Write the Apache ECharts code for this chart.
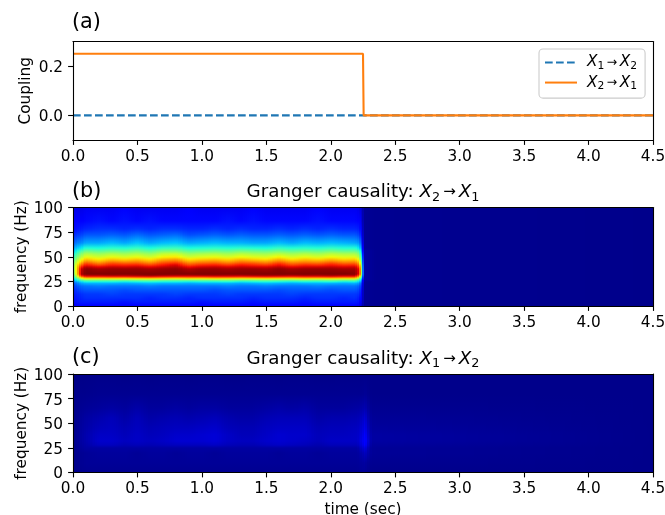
<!DOCTYPE html>
<html>
<head>
<meta charset="utf-8">
<style>html,body{margin:0;padding:0;background:#fff}#c{width:665px;height:515px}</style>
<script src="https://cdn.jsdelivr.net/npm/echarts@6/dist/echarts.min.js"></script>
</head>
<body>
<div id="c"></div>
<script>
// ---------- Coupling panel data ----------
const couplingTimes12 = [0, 4.5];
const couplingValues12 = [0, 0];
const couplingTimes21 = [0, 2.25, 2.255, 4.5];
const couplingValues21 = [0.25, 0.25, 0, 0];

// ---------- Axis ticks ----------
const timeTicks = [0, 0.5, 1, 1.5, 2, 2.5, 3, 3.5, 4, 4.5];
const couplingTicks = [0, 0.2];

// ---------- Granger causality X2 -> X1 (percent of colour scale) ----------
const freqsB = [0,4,8,12,16,20,23,24.5,26.2,27.2,28,29,30,31,32.5,37.5,40,42,44,46,48,49.5,52.5,55.5,58.5,64,72,78,86,100];
const timesB = [0,0.03,0.06,0.1,0.2,0.3,0.4,0.5,0.6,0.7,0.8,0.9,1.0,1.1,1.2,1.3,1.4,1.5,1.6,1.7,1.8,1.9,2.0,2.1,2.19,2.22,2.24,2.26,2.35,4.5];
const columnsB = [
[10,13,14,15,16,18,21,24,29,32,35,38,41,44,48,50,51,50,48,46,43,40,36,31,27,21,16,13,11,9],
[11,14,15,16,18,21,25,29,38,43,49,55,60,64,68,69,68,66,62,58,54,50,45,38,32,25,18,14,12,9],
[11,15,16,17,20,23,29,34,46,55,65,76,86,93,96,94,88,80,73,67,62,57,51,43,35,26,19,15,12,9],
[11,15,17,18,21,24,31,37,50,62,72,84,92,97,100,99,95,89,82,75,69,63,57,48,39,29,21,16,13,10],
[12,15,17,18,21,25,31,37,50,61,72,84,92,97,100,97,91,83,76,70,65,60,54,46,38,29,21,17,14,10],
[11,15,17,19,21,24,31,37,50,62,73,85,93,98,100,98,94,88,82,75,69,63,57,48,40,31,22,17,13,10],
[11,14,17,18,20,24,30,36,50,62,72,85,93,97,100,98,93,87,80,73,67,61,55,47,39,29,21,16,14,11],
[11,15,17,18,21,24,31,37,51,63,74,86,94,98,100,98,94,88,81,75,69,63,57,49,41,32,23,17,13,10],
[12,15,16,18,21,25,32,38,52,63,75,87,95,99,100,97,91,84,77,71,66,60,54,46,38,29,21,16,14,10],
[11,15,17,18,21,24,31,37,50,62,73,85,93,98,100,98,94,89,83,77,71,65,59,50,41,31,22,17,13,10],
[11,15,17,19,21,24,31,37,49,61,71,84,92,97,100,99,96,92,86,79,73,66,60,50,42,32,23,17,13,10],
[11,15,16,18,21,24,30,36,50,62,73,84,92,97,100,96,90,83,77,71,66,60,54,46,38,29,20,16,13,11],
[11,14,17,18,21,24,31,37,50,62,72,84,92,98,100,98,93,87,80,74,68,62,56,47,39,30,21,16,13,10],
[12,15,17,18,20,24,31,37,51,63,74,85,93,98,100,98,94,88,81,75,69,63,57,48,40,31,22,17,13,10],
[11,15,17,19,21,25,31,38,51,62,73,85,93,97,100,97,92,85,78,72,67,61,55,47,39,30,21,16,14,10],
[11,15,17,18,21,24,30,36,50,61,72,84,92,97,100,98,94,89,82,76,70,64,58,49,40,30,22,17,13,10],
[11,14,16,18,21,24,31,37,50,62,73,85,93,98,100,98,93,87,81,74,68,62,56,48,39,29,21,16,14,11],
[12,15,17,18,21,25,32,38,51,63,74,86,94,98,100,97,92,85,78,72,66,61,55,47,38,29,21,16,13,10],
[11,15,17,18,20,24,31,37,50,62,73,85,93,98,100,99,95,90,84,77,71,65,58,49,41,31,22,17,13,10],
[11,15,17,19,21,24,30,36,50,61,72,84,92,97,100,97,91,84,78,72,66,61,55,47,39,29,21,16,13,10],
[11,14,16,18,21,24,31,37,51,63,74,85,93,98,100,98,93,87,80,74,69,63,57,48,40,31,22,17,13,10],
[12,15,17,18,21,25,31,37,50,62,73,85,93,97,100,98,93,86,79,73,67,61,55,47,39,30,21,16,14,11],
[11,15,17,18,20,24,31,38,51,63,74,86,94,98,100,98,94,89,83,76,70,64,58,49,41,31,22,17,13,10],
[11,15,16,18,21,24,30,36,50,61,72,84,92,97,100,97,92,86,79,73,67,62,56,47,39,30,21,16,13,10],
[11,15,17,18,21,24,31,37,50,62,72,84,92,97,99,97,93,87,80,74,68,62,56,47,39,29,21,16,13,10],
[10,14,15,17,19,22,28,33,42,50,59,69,78,86,91,90,85,79,73,67,62,57,51,43,35,27,19,15,12,9],
[6,8,9,10,11,13,15,18,22,26,29,33,37,41,43,43,42,40,37,35,32,30,27,23,19,15,11,9,7,6],
[2,2,2,2,2,2,2,2,3,3,3,3,3,3,3,3,3,3,3,3,3,3,3,3,2,2,2,2,2,2],
[1.5,1.5,1.5,1.5,1.5,1.5,1.5,1.5,1.5,1.5,1.5,1.5,1.5,1.5,1.5,1.5,1.5,1.5,1.5,1.5,1.5,1.5,1.5,1.5,1.5,1.5,1.5,1.5,1.5,1.5],
[1,1,1,1,1,1,1,1,1,1,1,1,1,1,1,1,1,1,1,1,1,1,1,1,1,1,1,1,1,1]
];

// ---------- Granger causality X1 -> X2 (percent of colour scale) ----------
const freqsC = [0,10,20,25,28,32,38,45,55,65,80,100];
const timesC = [0,0.1,0.2,0.3,0.4,0.5,0.6,0.7,0.8,0.9,1.0,1.1,1.2,1.3,1.4,1.5,1.6,1.7,1.8,1.9,2.0,2.1,2.2,2.245,2.262,2.28,2.32,4.5];
const columnsC = [
[1,1,1,1,1,1,1,1,1,1,1,0.6],
[1.5,2,2,3,3.5,4,4,3.5,3,2,1.2,0.8],
[1.5,2,2.5,3,5.5,6.5,6,5,4,2.5,1.5,1],
[1.5,2,2.5,3,5.5,6.5,6,5.5,5,3,1.5,1],
[1.5,2,2.5,3,4.5,5.5,5,4.5,3.5,2.5,1.5,0.8],
[1.5,2,2,3,5,6,6,5.5,5,3.5,1.5,1],
[1.5,2,2.5,3,4.5,5.5,5,4.5,3.5,2.5,1.5,0.8],
[1.5,2,2.5,3,5,6,5.5,5,4,2.5,1.5,1],
[1.5,2,2,3,5.5,7,6.5,5.5,4.5,3,1.5,1],
[1.5,2,2.5,3,5.5,7,6.5,5.5,4,2.5,1.5,0.8],
[1.5,2,2.5,3,5.5,7,7,6,4.5,3,1.5,1],
[1.5,2,2,3,6,7.5,7.5,6.5,5,3,1.5,1],
[1.5,2,2.5,3,5,6,6,5,4,2.5,1.5,0.8],
[1.5,2,2.5,3,4.5,5.5,5,4.5,3.5,2.5,1.5,0.8],
[1.5,2,2.5,3,4.5,5.5,5,4.5,3.5,2.5,1.5,1],
[1.5,2,2.5,3,5.5,6.5,6,5.5,4.5,3,1.5,1],
[1.5,2,2,3,6,7,7,6,5,3.5,1.5,0.8],
[1.5,2,2.5,3,5.5,6.5,6.5,6,5,3,1.5,1],
[1.5,2,2.5,3,5,6,6.5,6,5,3.5,1.5,1],
[1.5,2,2,3,4,5,5,4.5,3.5,2.5,1.5,0.8],
[1.5,2,2.5,3,5,6,5.5,5,4,2.5,1.5,0.8],
[1.5,2,2.5,3,5,6,5.5,5,4,2.5,1.5,1],
[1.5,2,2.5,3,5,6,6,5.5,4.5,3,1.5,1],
[2,2.5,4,6,8,9,8,7,5.5,3.5,1.5,1],
[2,3,6,9,12,13,12,10,8,4.5,2,1],
[1.5,2,4,5,7,8,7,6,4.5,3,1.5,1],
[1,1.5,2,2,2.5,3,3,2.5,2,1.5,1,1],
[1,1,1,1,1,1,1,1,1,1,1,1]
];

// ---------- Texts ----------
const panelLabels = ['(a)', '(b)', '(c)'];
const seriesNames = ['X1 to X2', 'X2 to X1'];
const mathArrow12 = '{i|X}{s|1}{a|\u2009\u2192\u2009}{i|X}{s|2}';
const mathArrow21 = '{i|X}{s|2}{a|\u2009\u2192\u2009}{i|X}{s|1}';

// ---------- Colour map (matplotlib jet) ----------
const jetR = [[0,0],[0.35,0],[0.66,1],[0.89,1],[1,0.5]];
const jetG = [[0,0],[0.125,0],[0.375,1],[0.64,1],[0.91,0],[1,0]];
const jetB = [[0,0.5],[0.11,1],[0.34,1],[0.65,0],[1,0]];
function seg(t, s){
  for (let i=1;i<s.length;i++) if (t<=s[i][0]) {
    const a=s[i-1], b=s[i];
    return a[1]+(b[1]-a[1])*(t-a[0])/(b[0]-a[0]);
  }
  return s[s.length-1][1];
}
function jet(p){
  const t=Math.max(0,Math.min(1,p/100));
  return 'rgb('+Math.round(seg(t,jetR)*255)+','+Math.round(seg(t,jetG)*255)+','+Math.round(seg(t,jetB)*255)+')';
}

// ---------- Build cells from the tables ----------
function cells(times, freqs, cols){
  const out=[];
  for (let i=0;i<times.length-1;i++)
    for (let j=0;j<freqs.length-1;j++)
      out.push([times[i],times[i+1],freqs[j],freqs[j+1],cols[i][j],cols[i+1][j],cols[i][j+1],cols[i+1][j+1]]);
  return out;
}
function renderCell(params, api){
  const t0=api.value(0), t1=api.value(1), f0=api.value(2), f1=api.value(3);
  const v00=api.value(4), v10=api.value(5), v01=api.value(6), v11=api.value(7);
  const x0=Math.round(api.coord([t0,f0])[0]), x1=Math.round(api.coord([t1,f0])[0]);
  const yb=Math.round(api.coord([t0,f0])[1]), yt=Math.round(api.coord([t0,f1])[1]);
  if (yb===yt || x0===x1) return null;
  const flat = v00===v10 && v01===v11;
  const n = flat ? 1 : Math.max(1,Math.ceil((x1-x0)/2));
  const children=[];
  for (let k=0;k<n;k++){
    const a=x0+Math.round((x1-x0)*k/n), b=x0+Math.round((x1-x0)*(k+1)/n);
    const m=n===1?0.5:(k+0.5)/n;
    children.push({
      type:'rect',
      shape:{x:a,y:yt,width:b-a,height:yb-yt},
      style:{fill:{type:'linear',x:0,y:0,x2:0,y2:1,colorStops:[
        {offset:0,color:jet(v01+(v11-v01)*m)},
        {offset:1,color:jet(v00+(v10-v00)*m)}
      ]}},
      silent:true
    });
  }
  return {type:'group',children};
}

// ---------- Layout ----------
const font='DejaVu Sans';
const tickSize=15.3;
const L=73, W=580;
const grids=[{left:L,width:W,top:41.5,height:98.5,outerBoundsMode:'none'},
             {left:L,width:W,top:207.5,height:98.5,outerBoundsMode:'none'},
             {left:L,width:W,top:374,height:98.5,outerBoundsMode:'none'}];
const black={color:'#000',width:1.1};
const xAxis=[], yAxis=[];
grids.forEach((g,i)=>{
  xAxis.push({type:'value',gridIndex:i,min:0,max:4.5,interval:0.5,position:'bottom',z:10,
    axisLine:{show:true,onZero:false,lineStyle:black},
    axisTick:{show:true,length:4.9,lineStyle:black},
    axisLabel:{show:true,color:'#000',fontFamily:font,fontSize:tickSize,margin:9.5,hideOverlap:false,formatter:v=>v.toFixed(1)},
    splitLine:{show:false},
    name:i===2?'time (sec)':'',nameLocation:'middle',nameGap:30,nameMoveOverlap:false,nameTextStyle:{color:'#000',fontFamily:font,fontSize:tickSize}
  });
  xAxis.push({type:'value',gridIndex:i,min:0,max:4.5,interval:0.5,position:'top',z:10,
    axisLine:{show:true,onZero:false,lineStyle:black},axisTick:{show:false},axisLabel:{show:false},splitLine:{show:false}});
  const a = i===0;
  const yLab={show:true,color:'#000',fontFamily:font,fontSize:tickSize,margin:10,
    rich:{v:{fontFamily:font,fontSize:tickSize,color:'#000',padding:[4,0,0,0]}},
    formatter:v=>'{v|'+(a?v.toFixed(1):String(v))+'}'};
  yAxis.push({type:'value',gridIndex:i,min:a?-0.1:0,max:a?0.3:100,interval:a?0.1:25,position:'left',z:10,
    axisLine:{show:true,onZero:false,lineStyle:black},
    axisTick:a?{show:true,length:4.9,lineStyle:black,customValues:couplingTicks}:{show:true,length:4.9,lineStyle:black},
    axisLabel:a?Object.assign({},yLab,{customValues:couplingTicks}):yLab,
    splitLine:{show:false},
    name:a?'Coupling':'frequency (Hz)',nameLocation:'middle',nameGap:a?39:43.5,nameRotate:90,nameMoveOverlap:false,
    nameTextStyle:{color:'#000',fontFamily:font,fontSize:tickSize}
  });
  yAxis.push({type:'value',gridIndex:i,min:a?-0.1:0,max:a?0.3:100,interval:a?0.1:25,position:'right',z:10,
    axisLine:{show:true,onZero:false,lineStyle:black},axisTick:{show:false},axisLabel:{show:false},splitLine:{show:false}});
});

function titleText(t,top){
  return {text:t,left:72,top:top,padding:0,textStyle:{fontFamily:font,fontSize:20.8,fontWeight:'normal',color:'#000'}};
}
function mathRich(fs){
  return {t:{fontFamily:font,fontSize:fs,color:'#000',lineHeight:fs*1.25},
          i:{fontFamily:font,fontStyle:'italic',fontSize:fs,color:'#000',lineHeight:fs*1.25},
          s:{fontFamily:font,fontSize:fs*0.7,color:'#000',verticalAlign:'bottom',lineHeight:fs*1.25},
          a:{fontFamily:font,fontSize:fs*0.82,color:'#000',lineHeight:fs*1.25}};
}
function mathTitle(s,top){
  const fs=18.3;
  return {text:'{t|Granger causality: }'+s,left:363,textAlign:'center',top:top,padding:0,
    textStyle:{fontFamily:font,fontSize:fs,fontWeight:'normal',color:'#000',rich:mathRich(fs)}};
}

const option={
  animation:false,
  backgroundColor:'#fff',
  grid:grids,xAxis,yAxis,
  title:[titleText(panelLabels[0],12),titleText(panelLabels[1],181),titleText(panelLabels[2],347),
         mathTitle(mathArrow21,181),mathTitle(mathArrow12,347.5)],
  legend:{
    orient:'vertical',left:539,top:49,padding:[6,8,6,5],itemWidth:32,itemHeight:14,itemGap:3,
    backgroundColor:'rgba(255,255,255,0.8)',borderColor:'#ccc',borderWidth:1.1,borderRadius:4,
    data:seriesNames,
    itemStyle:{color:'rgba(0,0,0,0)',borderColor:'rgba(0,0,0,0)',borderWidth:0,opacity:0},
    formatter:n=>n===seriesNames[0]?'{g|}'+mathArrow12:'{g|}'+mathArrow21,
    textStyle:{fontFamily:font,fontSize:tickSize,color:'#000',
      rich:Object.assign({g:{width:5}},mathRich(tickSize))}
  },
  series:[
    {type:'line',name:seriesNames[0],xAxisIndex:0,yAxisIndex:0,showSymbol:false,symbol:'none',z:3,
     data:couplingTimes12.map((t,i)=>[t,couplingValues12[i]]),
     lineStyle:{color:'#1f77b4',width:2.08,type:[7.7,3.3]},itemStyle:{color:'#1f77b4'}},
    {type:'line',name:seriesNames[1],xAxisIndex:0,yAxisIndex:0,showSymbol:false,symbol:'none',z:4,
     data:couplingTimes21.map((t,i)=>[t,couplingValues21[i]]),
     lineStyle:{color:'#ff7f0e',width:2.08},itemStyle:{color:'#ff7f0e'}},
    {type:'custom',name:'gcB',xAxisIndex:2,yAxisIndex:2,coordinateSystem:'cartesian2d',clip:true,silent:true,
     renderItem:renderCell,data:cells(timesB,freqsB,columnsB),encode:{x:[0,1],y:[2,3]},progressive:0},
    {type:'custom',name:'gcC',xAxisIndex:4,yAxisIndex:4,coordinateSystem:'cartesian2d',clip:true,silent:true,
     renderItem:renderCell,data:cells(timesC,freqsC,columnsC),encode:{x:[0,1],y:[2,3]},progressive:0}
  ]
};
const chart=echarts.init(document.getElementById('c'),null,{renderer:'canvas'});
chart.setOption(option);
</script>
</body>
</html>
